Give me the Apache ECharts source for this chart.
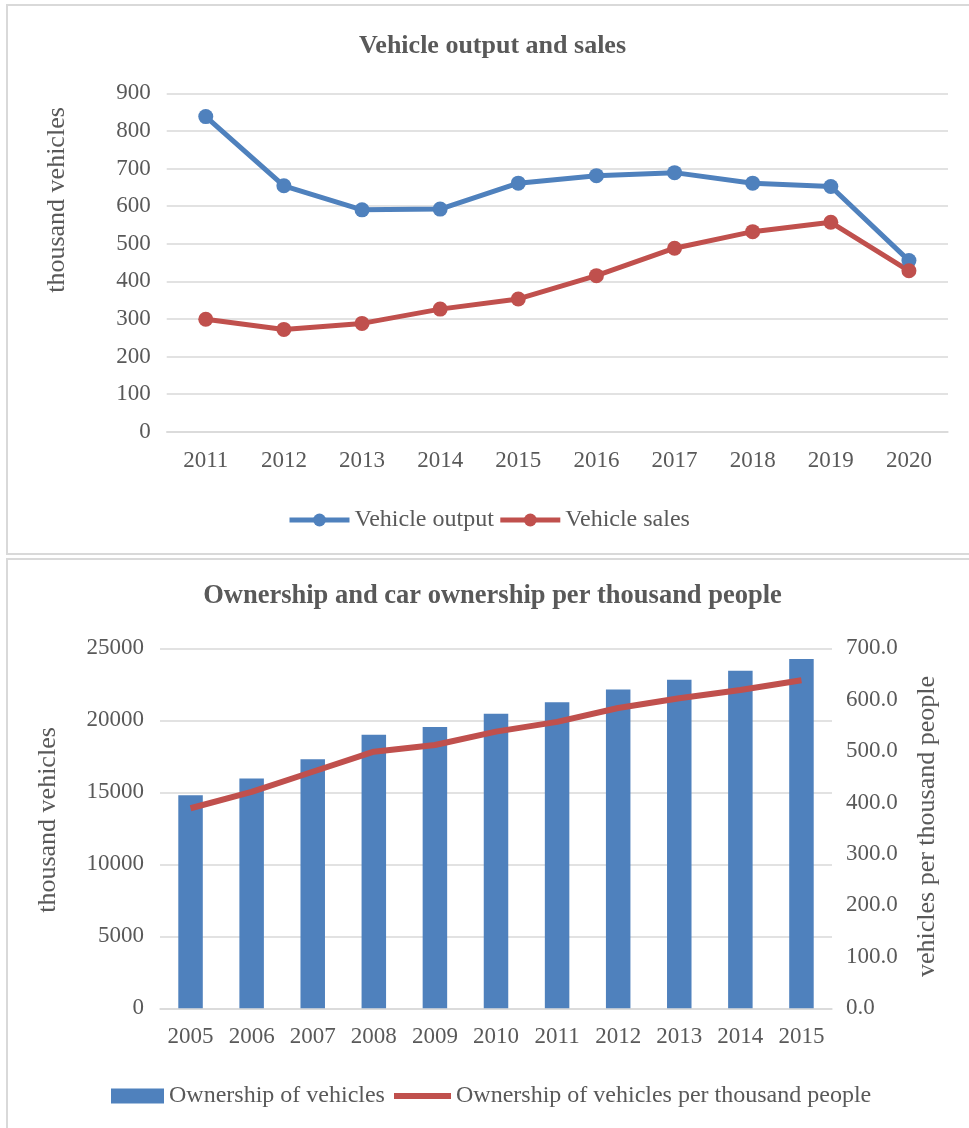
<!DOCTYPE html>
<html>
<head>
<meta charset="utf-8">
<script src="https://cdn.jsdelivr.net/npm/echarts@6/dist/echarts.min.js"></script>
<style>
  html, body { margin: 0; padding: 0; background: #ffffff; }
  #chart { width: 969px; height: 1128px; }
</style>
</head>
<body>
<div id="chart"></div>
<script>
// Top panel: vehicle output and sales (thousand vehicles)
const outputYears = ['2011', '2012', '2013', '2014', '2015', '2016', '2017', '2018', '2019', '2020'];
const vehicleOutput = [838, 654, 590, 592, 661, 681, 689, 661, 652, 455];
const vehicleSales = [299, 272, 288, 326, 353, 415, 488, 532, 557, 428];

// Bottom panel: vehicle ownership (thousand vehicles) and vehicles per thousand people
const ownershipYears = ['2005', '2006', '2007', '2008', '2009', '2010', '2011', '2012', '2013', '2014', '2015'];
const vehicleOwnership = [14800, 15960, 17300, 18990, 19530, 20450, 21260, 22140, 22810, 23440, 24250];
const perThousandPeople = [389, 421, 460, 499, 512, 538, 557, 584, 603, 619, 638];

const FONT = '"Liberation Serif", "Times New Roman", serif';
const TEXT = '#595959';
const GRID = '#D9D9D9';
const BLUE = '#4F81BD';
const RED = '#C0504D';

const chart = echarts.init(document.getElementById('chart'), null, { renderer: 'canvas' });

const labelStyle = { fontFamily: FONT, fontSize: 23, color: TEXT };
const legendText = { fontFamily: FONT, fontSize: 24, color: TEXT };

const option = {
  backgroundColor: '#ffffff',
  animation: false,
  grid: [
    { left: 166.7, top: 93.3, width: 781.3, height: 338.4 },
    { left: 160, top: 648.3, width: 672, height: 360 }
  ],
  xAxis: [
    {
      type: 'category', gridIndex: 0, data: outputYears, boundaryGap: true,
      axisLine: { lineStyle: { color: GRID, width: 1.5 } },
      axisTick: { show: false },
      axisLabel: Object.assign({ margin: 18 }, labelStyle)
    },
    {
      type: 'category', gridIndex: 1, data: ownershipYears, boundaryGap: true,
      axisLine: { lineStyle: { color: GRID, width: 1.5 } },
      axisTick: { show: false },
      axisLabel: Object.assign({ margin: 17 }, labelStyle)
    }
  ],
  yAxis: [
    {
      type: 'value', gridIndex: 0, min: 0, max: 900, interval: 100,
      axisLine: { show: false }, axisTick: { show: false },
      axisLabel: Object.assign({ margin: 16 }, labelStyle),
      splitLine: { lineStyle: { color: GRID, width: 1.5 } }
    },
    {
      type: 'value', gridIndex: 1, min: 0, max: 25000, interval: 5000,
      axisLine: { show: false }, axisTick: { show: false },
      axisLabel: Object.assign({ margin: 16, formatter: v => String(v) }, labelStyle),
      splitLine: { lineStyle: { color: GRID, width: 1.5 } }
    },
    {
      type: 'value', gridIndex: 1, position: 'right', min: 0, max: 700, interval: 100,
      axisLine: { show: false }, axisTick: { show: false },
      axisLabel: Object.assign({ margin: 14, formatter: v => v.toFixed(1) }, labelStyle),
      splitLine: { show: false }
    }
  ],
  legend: [
    {
      left: 282, top: 503, itemWidth: 60, itemHeight: 16, itemGap: 4,
      lineStyle: { width: 5 },
      textStyle: legendText,
      data: ['Vehicle output', 'Vehicle sales']
    },
    {
      left: 106, top: 1079, itemWidth: 53, itemHeight: 15,
      textStyle: legendText,
      data: [{ name: 'Ownership of vehicles', icon: 'rect' }]
    },
    {
      left: 389, top: 1079, itemWidth: 57, itemHeight: 6,
      textStyle: legendText,
      data: [{ name: 'Ownership of vehicles per thousand people', icon: 'rect' }]
    }
  ],
  series: [
    {
      name: 'Vehicle output', type: 'line', xAxisIndex: 0, yAxisIndex: 0,
      data: vehicleOutput, symbol: 'circle', symbolSize: 15,
      itemStyle: { color: BLUE }, lineStyle: { color: BLUE, width: 5 }
    },
    {
      name: 'Vehicle sales', type: 'line', xAxisIndex: 0, yAxisIndex: 0,
      data: vehicleSales, symbol: 'circle', symbolSize: 15,
      itemStyle: { color: RED }, lineStyle: { color: RED, width: 5 }
    },
    {
      name: 'Ownership of vehicles', type: 'bar', xAxisIndex: 1, yAxisIndex: 1,
      data: vehicleOwnership, barWidth: 24.5,
      itemStyle: { color: BLUE }
    },
    {
      name: 'Ownership of vehicles per thousand people', type: 'line', xAxisIndex: 1, yAxisIndex: 2,
      data: perThousandPeople, symbol: 'none',
      itemStyle: { color: RED }, lineStyle: { color: RED, width: 6 }
    }
  ],
  graphic: [
    // panel frames
    { type: 'rect', shape: { x: 7, y: 5, width: 980, height: 549 },
      style: { fill: 'none', stroke: GRID, lineWidth: 2 }, silent: true },
    { type: 'rect', shape: { x: 7, y: 559, width: 980, height: 600 },
      style: { fill: 'none', stroke: GRID, lineWidth: 2 }, silent: true },
    // chart titles
    { type: 'text', x: 492.5, y: 33,
      style: { text: 'Vehicle output and sales', align: 'center', verticalAlign: 'top',
               font: 'bold 26px ' + FONT, fill: TEXT } },
    { type: 'text', x: 492.5, y: 583,
      style: { text: 'Ownership and car ownership per thousand people', align: 'center', verticalAlign: 'top',
               font: 'bold 26.5px ' + FONT, fill: TEXT } },
    // axis titles
    { type: 'text', x: 56.7, y: 200, rotation: Math.PI / 2,
      style: { text: 'thousand vehicles', align: 'center', verticalAlign: 'middle',
               font: '26px ' + FONT, fill: TEXT } },
    { type: 'text', x: 48.3, y: 820, rotation: Math.PI / 2,
      style: { text: 'thousand vehicles', align: 'center', verticalAlign: 'middle',
               font: '26px ' + FONT, fill: TEXT } },
    { type: 'text', x: 927, y: 826.5, rotation: Math.PI / 2,
      style: { text: 'vehicles per thousand people', align: 'center', verticalAlign: 'middle',
               font: '26px ' + FONT, fill: TEXT } }
  ]
};

chart.setOption(option);
</script>
</body>
</html>
